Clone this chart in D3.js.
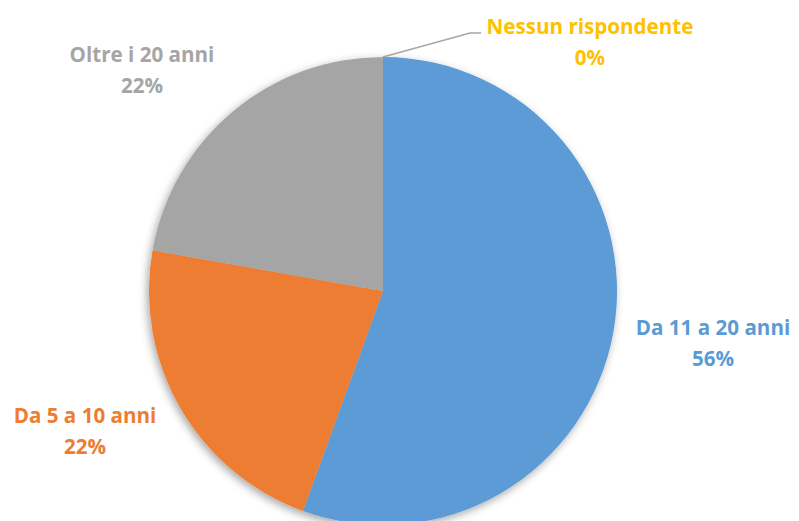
<!DOCTYPE html>
<html lang="it">
<head>
    <meta charset="UTF-8">
    <title>Anni di esperienza</title>
    <script src="https://d3js.org/d3.v7.min.js"></script>
    <style>
        body { margin: 0; background: #fff; }
        text { font-family: "Open Sans", Lato, sans-serif; font-weight: bold; }
    </style>
</head>
<body>
    <svg id="pie" width="799" height="521"></svg>

    <script>
        // data (counts -> 5/9, 2/9, 2/9, 0)
        const categories = ["Da 11 a 20 anni", "Da 5 a 10 anni", "Oltre i 20 anni", "Nessun rispondente"];
        const values = [5, 2, 2, 0];
        const percentLabels = ["56%", "22%", "22%", "0%"];
        const colors = ["#5B9BD5", "#ED7D31", "#A5A5A5", "#FFC000"];

        const svg = d3.select("#pie"),
            cx = 383, cy = 291,
            radius = 234;

        const defs = svg.append("defs");
        const f = defs.append("filter").attr("id", "shadow")
            .attr("x", "-10%").attr("y", "-10%").attr("width", "120%").attr("height", "120%");
        f.append("feDropShadow")
            .attr("dx", -2).attr("dy", 3)
            .attr("stdDeviation", 4)
            .attr("flood-color", "#000").attr("flood-opacity", 0.35);

        const data = categories.map((c, i) => ({name: c, value: values[i], pct: percentLabels[i], color: colors[i]}));

        const pie = d3.pie().sort(null).value(d => d.value);
        const arcs = pie(data);
        const arc = d3.arc().innerRadius(0).outerRadius(radius);

        const g = svg.append("g").attr("transform", `translate(${cx},${cy})`);
        g.append("g").attr("filter", "url(#shadow)")
            .selectAll("path")
            .data(arcs.filter(d => d.value > 0))
            .enter().append("path")
            .attr("d", arc)
            .attr("fill", d => d.data.color);

        // label positions (relative to the pie centre)
        const labelPos = {
            "Da 11 a 20 anni": [330, 44],
            "Da 5 a 10 anni": [-298, 132],
            "Oltre i 20 anni": [-241, -229],
            "Nessun rispondente": [207, -257]
        };

        // leader line for the 0% slice
        const zero = arcs[3];
        const p0 = d3.pointRadial(zero.startAngle, radius);
        g.append("polyline")
            .attr("points", [[p0[0], p0[1]], [87, -258], [98, -258]].map(p => p.join(",")).join(" "))
            .attr("fill", "none")
            .attr("stroke", "#A6A6A6")
            .attr("stroke-width", 1.5);

        const labels = g.selectAll("text.lbl")
            .data(arcs)
            .enter().append("text")
            .attr("class", "lbl")
            .attr("text-anchor", "middle")
            .attr("fill", d => d.data.color)
            .attr("font-size", 20.6)
            .attr("transform", d => `translate(${labelPos[d.data.name][0]},${labelPos[d.data.name][1]})`);
        labels.append("tspan").attr("x", 0).attr("y", 0).text(d => d.data.name);
        labels.append("tspan").attr("x", 0).attr("y", 31).text(d => d.data.pct);
    </script>
</body>
</html>
